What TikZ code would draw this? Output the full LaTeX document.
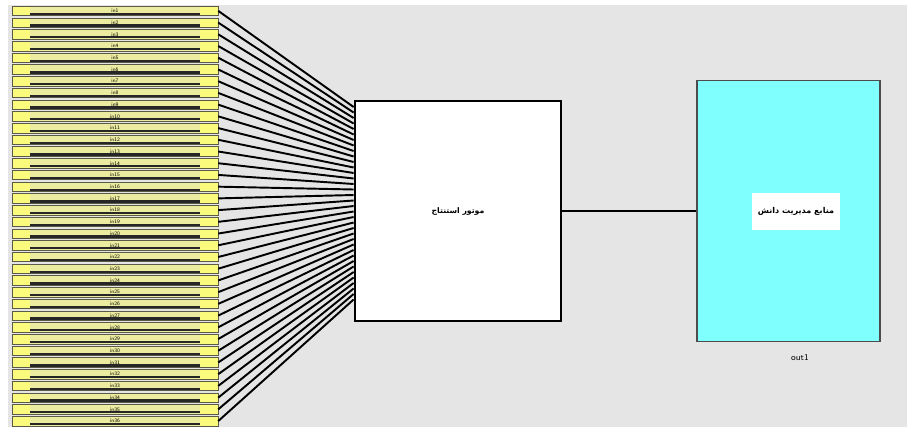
\documentclass[tikz,border=0pt]{standalone}
\usepackage{fontspec}
\newfontfamily\arabicfont[Script=Arabic]{DejaVu Sans}
\TeXXeTstate=1

\tikzset{
  inblk/.style={draw={rgb,255:red,90;green,90;blue,70}, line width=0.3pt, fill={rgb,255:red,236;green,236;blue,160}, minimum width=4.12cm, minimum height=0.19cm, inner sep=0pt, font=\sffamily\fontsize{3}{3}\selectfont,
    path picture={
      \fill[fill={rgb,255:red,250;green,250;blue,125}] (path picture bounding box.south west) rectangle ([xshift=0.36cm]path picture bounding box.north west);
      \fill[fill={rgb,255:red,250;green,250;blue,125}] (path picture bounding box.south east) rectangle ([xshift=-0.36cm]path picture bounding box.north east);
      \draw[line width=1.3pt, black!85] ([xshift=0.36cm,yshift=-0.06cm]path picture bounding box.west) -- ([xshift=-0.36cm,yshift=-0.06cm]path picture bounding box.east);}},
  wire/.style={line width=1.1pt},
}

\begin{document}
\begin{tikzpicture}[x=0.02cm, y=-0.02cm]
\useasboundingbox (0,0) rectangle (907,427);
\fill[fill=white] (0,0) rectangle (907,427);
\fill[fill={rgb,255:red,229;green,229;blue,229}] (8,5) rectangle (907,427);

\node[draw, line width=1.6pt, fill=white, minimum width=4.12cm, minimum height=4.4cm, font=\arabicfont\bfseries\fontsize{4.4}{6}\selectfont] (eng) at (458,211) {\beginR موتور استنتاج\endR};

\foreach \i in {1,...,36}{
  \pgfmathsetmacro{\ry}{5+(\i-0.5)*11.72}
  \pgfmathsetmacro{\dy}{-104+(\i-1)*5.5}
  \node[inblk] (in\i) at (115,\ry) {in\i};
  \path (eng.west) ++(0,\dy) coordinate (e\i);
  \draw[wire] (in\i.east) -- (e\i);
}
\node[draw, line width=1.6pt, minimum width=4.12cm, minimum height=4.4cm] (engframe) at (458,211) {};

\node[draw=black!70, line width=0.8pt, fill={rgb,255:red,128;green,255;blue,255}, minimum width=3.66cm, minimum height=5.22cm] (kms) at (788.5,211) {};
\node[fill=white, minimum width=1.52cm, minimum height=0.74cm, font=\arabicfont\bfseries\fontsize{4.6}{6}\selectfont] (kmslbl) at (796,211) {\beginR منابع مدیریت دانش\endR};
\draw[wire] (eng) -- (kms);
\node[font=\sffamily\fontsize{5}{6}\selectfont] (outlbl) at (800,358) {out1};

\end{tikzpicture}
\end{document}
